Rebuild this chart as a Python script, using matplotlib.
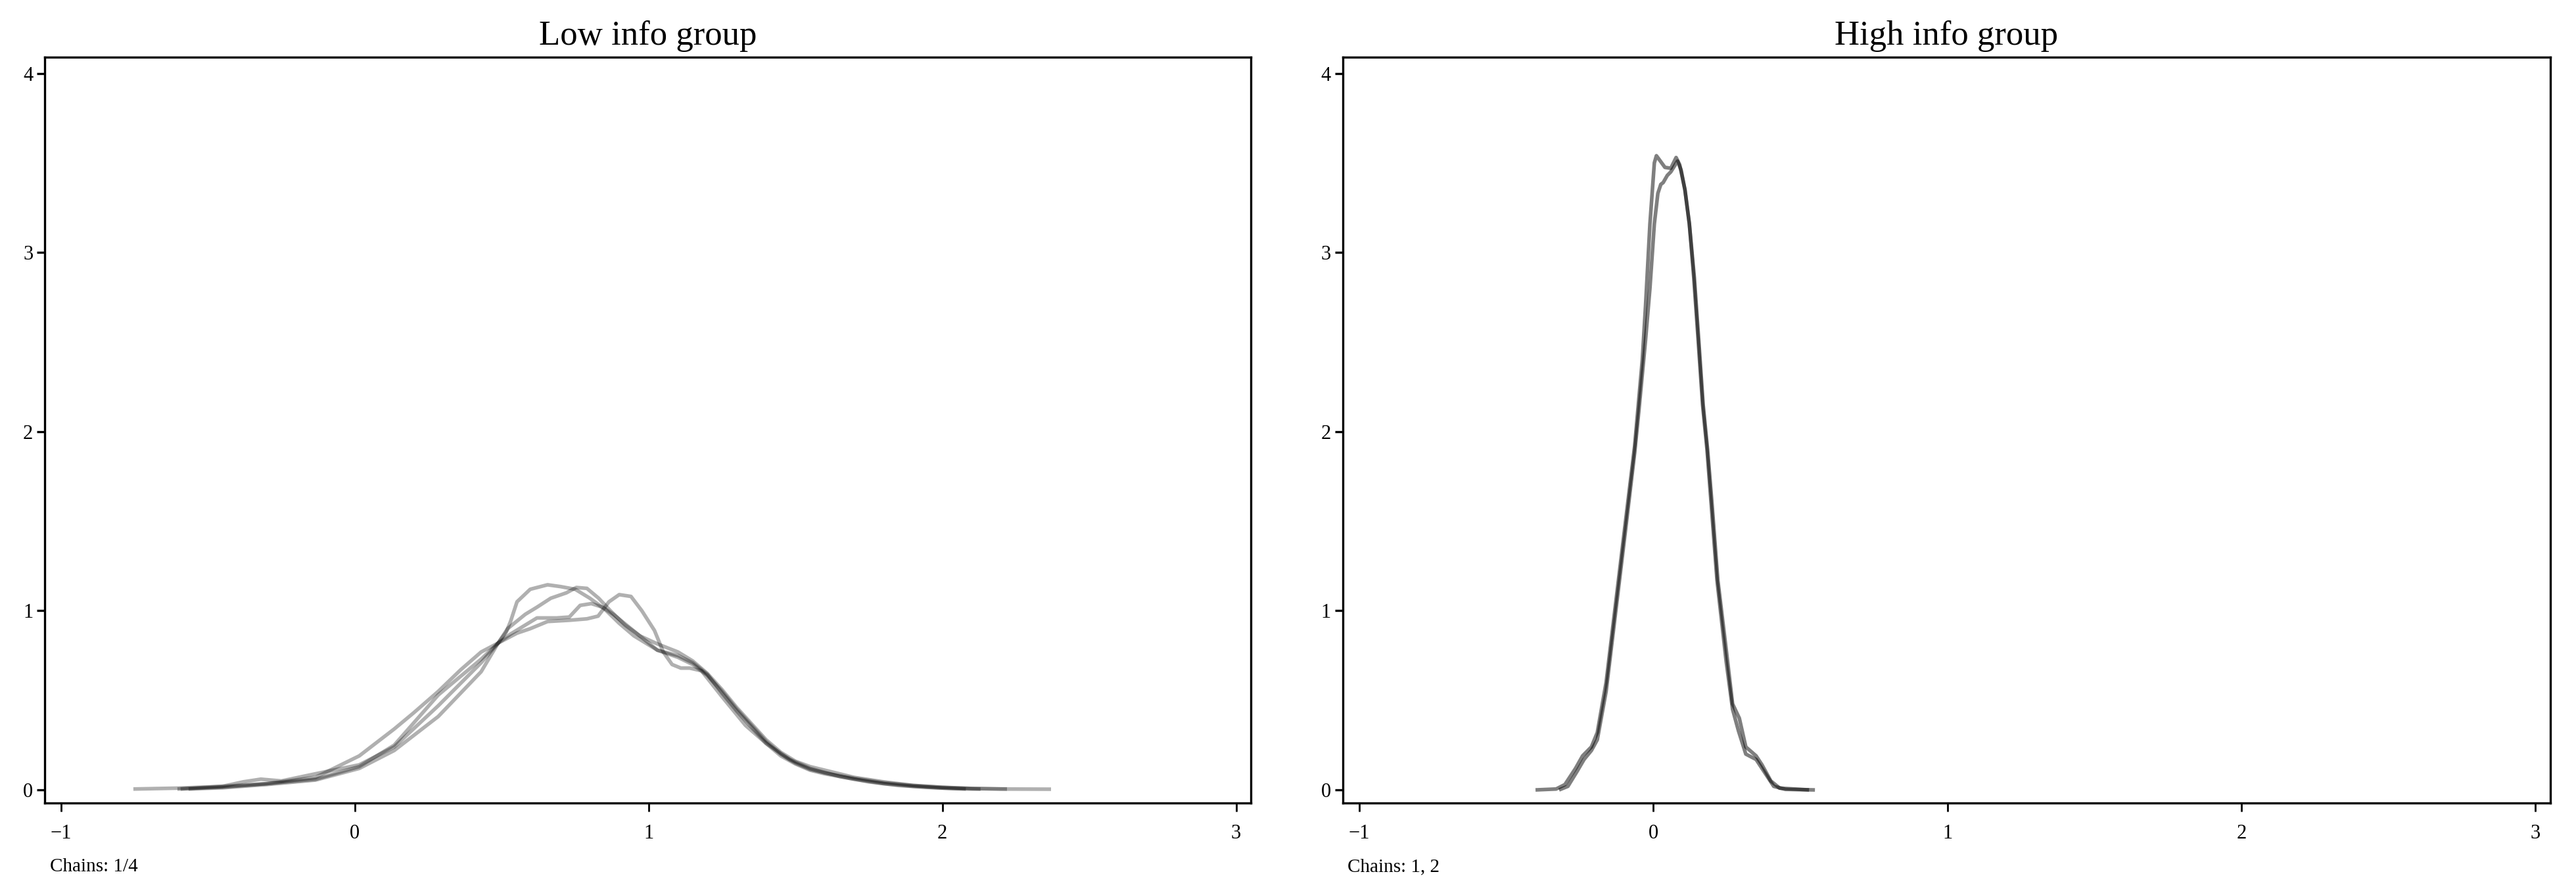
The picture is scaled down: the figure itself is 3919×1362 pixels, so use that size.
"""
Posterior density overlay per chain - low info vs high info group.
"""

import matplotlib
matplotlib.use("Agg")
import matplotlib.pyplot as plt

plt.rcParams["font.family"] = ["Liberation Serif", "DejaVu Serif"]

# low info group - 4 chains, densities
LOW_X1 = [-0.754, -0.6, -0.45, -0.3, -0.134, 0.015, 0.134, 0.284, 0.43, 0.488, 0.515, 0.53, 0.552, 0.597,
          0.656, 0.70, 0.75, 0.80, 0.85, 0.90, 0.95, 1.03, 1.10, 1.15, 1.20, 1.25, 1.30, 1.35, 1.40, 1.45,
          1.50, 1.55, 1.60, 1.70, 1.80, 1.90, 2.00, 2.10, 2.22]
LOW_Y1 = [0.005, 0.01, 0.02, 0.035, 0.06, 0.13, 0.25, 0.53, 0.73, 0.82, 0.88, 0.94, 1.05, 1.12,
          1.145, 1.135, 1.12, 1.07, 1.01, 0.93, 0.86, 0.78, 0.74, 0.70, 0.64, 0.55, 0.45, 0.36, 0.27, 0.20,
          0.15, 0.115, 0.095, 0.065, 0.04, 0.025, 0.015, 0.008, 0.005]

LOW_X2 = [-0.604, -0.45, -0.3, -0.134, 0.015, 0.134, 0.20, 0.284, 0.36, 0.43, 0.488, 0.52, 0.58, 0.62,
          0.667, 0.72, 0.754, 0.79, 0.83, 0.87, 0.92, 0.97, 1.03, 1.10, 1.15, 1.20, 1.25, 1.30, 1.35, 1.40,
          1.45, 1.50, 1.55, 1.60, 1.70, 1.80, 1.90, 2.00, 2.10, 2.20, 2.37]
LOW_Y2 = [0.005, 0.015, 0.035, 0.07, 0.19, 0.34, 0.43, 0.55, 0.67, 0.77, 0.82, 0.90, 0.98, 1.02,
          1.07, 1.10, 1.13, 1.125, 1.07, 1.0, 0.92, 0.86, 0.815, 0.77, 0.72, 0.65, 0.56, 0.46, 0.37, 0.28,
          0.21, 0.16, 0.13, 0.11, 0.07, 0.045, 0.025, 0.014, 0.008, 0.005, 0.004]

LOW_X3 = [-0.593, -0.45, -0.38, -0.32, -0.25, -0.134, 0.015, 0.134, 0.284, 0.43, 0.488, 0.552, 0.597,
          0.656, 0.73, 0.79, 0.828, 0.865, 0.90, 0.94, 0.977, 1.02, 1.05, 1.08, 1.11, 1.14, 1.18, 1.25,
          1.33, 1.40, 1.48, 1.55, 1.65, 1.75, 1.85, 1.95, 2.05, 2.13]
LOW_Y3 = [0.005, 0.02, 0.045, 0.06, 0.05, 0.09, 0.14, 0.24, 0.47, 0.71, 0.82, 0.875, 0.90,
          0.94, 0.947, 0.955, 0.97, 1.05, 1.09, 1.08, 1.0, 0.89, 0.77, 0.70, 0.68, 0.68, 0.665, 0.52,
          0.36, 0.26, 0.17, 0.12, 0.075, 0.045, 0.025, 0.014, 0.007, 0.004]

LOW_X4 = [-0.566, -0.45, -0.3, -0.134, 0.015, 0.134, 0.284, 0.43, 0.488, 0.53, 0.58, 0.62, 0.687, 0.73,
          0.767, 0.805, 0.843, 0.88, 0.955, 1.03, 1.10, 1.15, 1.20, 1.25, 1.30, 1.35, 1.40, 1.45, 1.50,
          1.55, 1.60, 1.70, 1.80, 1.90, 2.00, 2.08]
LOW_Y4 = [0.005, 0.012, 0.03, 0.055, 0.12, 0.22, 0.41, 0.66, 0.82, 0.87, 0.92, 0.96, 0.96, 0.965,
          1.03, 1.04, 1.02, 0.98, 0.88, 0.78, 0.75, 0.71, 0.645, 0.54, 0.44, 0.35, 0.26, 0.19, 0.145,
          0.11, 0.09, 0.06, 0.035, 0.02, 0.01, 0.005]

# high info group - 2 chains
HIGH_X1 = [-0.40, -0.33, -0.30, -0.264, -0.24, -0.21, -0.19, -0.16, -0.127, -0.094, -0.063, -0.037,
           -0.026, -0.011, 0.004, 0.011, 0.02, 0.04, 0.06, 0.078, 0.09, 0.108, 0.123, 0.138, 0.153,
           0.168, 0.183, 0.197, 0.217, 0.248, 0.27, 0.29, 0.315, 0.35, 0.37, 0.41, 0.45, 0.55]
HIGH_Y1 = [0.0, 0.005, 0.03, 0.12, 0.19, 0.24, 0.32, 0.60, 1.05, 1.50, 1.92, 2.40,
           2.70, 3.16, 3.50, 3.54, 3.52, 3.475, 3.47, 3.53, 3.49, 3.35, 3.16, 2.86, 2.51,
           2.15, 1.90, 1.60, 1.17, 0.72, 0.45, 0.33, 0.20, 0.17, 0.12, 0.02, 0.003, 0.0]

HIGH_X2 = [-0.32, -0.29, -0.26, -0.235, -0.21, -0.19, -0.16, -0.127, -0.094, -0.063, -0.049, -0.026,
           -0.011, 0.004, 0.016, 0.026, 0.034, 0.048, 0.06, 0.083, 0.095, 0.108, 0.123, 0.14, 0.155,
           0.17, 0.185, 0.20, 0.22, 0.25, 0.27, 0.293, 0.315, 0.35, 0.37, 0.40, 0.43, 0.53]
HIGH_Y2 = [0.0, 0.02, 0.10, 0.17, 0.22, 0.28, 0.55, 1.0, 1.45, 1.88, 2.11, 2.51,
           2.80, 3.16, 3.33, 3.38, 3.39, 3.43, 3.45, 3.51, 3.46, 3.35, 3.16, 2.86, 2.51,
           2.15, 1.90, 1.60, 1.17, 0.76, 0.48, 0.40, 0.24, 0.19, 0.14, 0.05, 0.01, 0.0]

X_TICKS = [-1, 0, 1, 2, 3]
Y_TICKS = [0, 1, 2, 3, 4]

panels = [
    ("Low info group", "Chains: 1/4", [(LOW_X1, LOW_Y1), (LOW_X2, LOW_Y2), (LOW_X3, LOW_Y3), (LOW_X4, LOW_Y4)], 0.31),
    ("High info group", "Chains: 1, 2", [(HIGH_X1, HIGH_Y1), (HIGH_X2, HIGH_Y2)], 0.5),
]

fig = plt.figure(figsize=(19.595, 6.81), dpi=200)
# axes placed by hand to match the reference layout
ax_left = fig.add_axes([0.01745, 0.1028, 0.4681, 0.8333])
ax_right = fig.add_axes([0.5213, 0.1028, 0.4687, 0.8333])

for ax, (title, note, chains, alpha) in zip([ax_left, ax_right], panels):
    for xs, ys in chains:
        ax.plot(xs, ys, color="black", alpha=alpha, linewidth=2.0,
                solid_capstyle="butt", solid_joinstyle="round")

    ax.set_xlim(-1.055, 3.05)
    ax.set_ylim(-0.073, 4.09)
    ax.set_xticks(X_TICKS)
    ax.set_yticks(Y_TICKS)
    ax.tick_params(axis="x", direction="out", length=4.5, width=1.0, pad=7, labelsize=11)
    ax.tick_params(axis="y", direction="out", length=4.5, width=1.2, pad=2, labelsize=11)
    for sp in ax.spines.values():
        sp.set_linewidth(1.2)

    ax.set_title(title, fontsize=19, pad=7)
    ax.text(0.004, -0.092, note, transform=ax.transAxes, fontsize=10.5, va="baseline", ha="left")

fig.savefig("out.png", dpi=200)
